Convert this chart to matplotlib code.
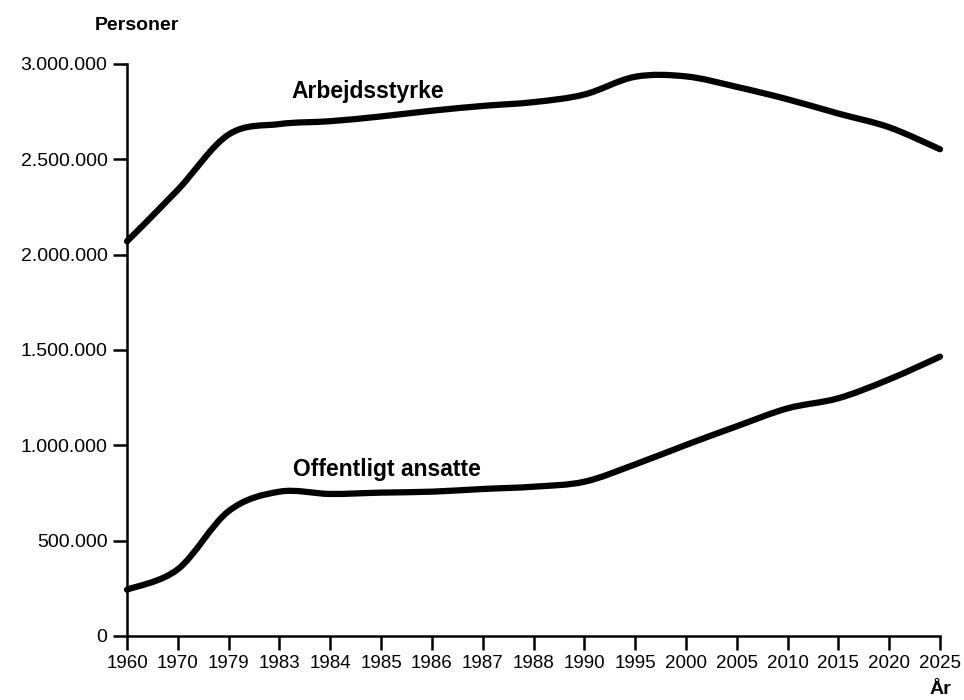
import matplotlib
matplotlib.use("Agg")
import matplotlib.pyplot as plt
from matplotlib.path import Path
from matplotlib.patches import PathPatch
import numpy as np

years = ["1960", "1970", "1979", "1983", "1984", "1985", "1986", "1987", "1988",
         "1990", "1995", "2000", "2005", "2010", "2015", "2020", "2025"]
arbejdsstyrke = [2070000, 2340000, 2630000, 2685000, 2700000, 2725000, 2755000,
                 2780000, 2800000, 2840000, 2933000, 2935000, 2880000, 2815000,
                 2740000, 2668000, 2553000]
offentligt = [243000, 350000, 655000, 757000, 745000, 752000, 757000, 771000,
              783000, 809000, 900000, 1002000, 1100000, 1194000, 1247000,
              1346000, 1465000]
y_ticks = [0, 500000, 1000000, 1500000, 2000000, 2500000, 3000000]
y_labels = ["0", "500.000", "1.000.000", "1.500.000", "2.000.000", "2.500.000", "3.000.000"]

plt.rcParams['font.family'] = ['Liberation Sans', 'DejaVu Sans']


def smooth_path(xs, ys):
    """Catmull-Rom style Bezier path through the data points."""
    pts = np.column_stack([xs, ys]).astype(float)
    n = len(pts)
    verts = [pts[0]]
    codes = [Path.MOVETO]
    for i in range(n - 1):
        p0 = pts[i - 1] if i > 0 else pts[i]
        p1 = pts[i]
        p2 = pts[i + 1]
        p3 = pts[i + 2] if i + 2 < n else pts[i + 1]
        c1 = p1 + (p2 - p0) / 6.0
        c2 = p2 - (p3 - p1) / 6.0
        verts += [c1, c2, p2]
        codes += [Path.CURVE4] * 3
    return Path(verts, codes)


fig = plt.figure(figsize=(9.64, 7.0), dpi=100)
ax = fig.add_axes([127/964, 64/700, (940-127)/964, (636-64)/700])

x = np.arange(len(years))
for series in (arbejdsstyrke, offentligt):
    patch = PathPatch(smooth_path(x, series), facecolor="none", edgecolor="black",
                      lw=4.5, capstyle="round", joinstyle="round", clip_on=False)
    ax.add_patch(patch)

ax.set_xlim(0, len(years) - 1)
ax.set_ylim(0, 3000000)
ax.set_xticks(x)
ax.set_xticklabels(years, fontsize=13.5)
ax.set_yticks(y_ticks)
ax.set_yticklabels(y_labels, fontsize=14)
for s in ("top", "right"):
    ax.spines[s].set_visible(False)
for s in ("left", "bottom"):
    ax.spines[s].set_linewidth(1.8)
ax.tick_params(axis="both", direction="out", length=10, width=1.8, pad=4)

ax.text(3.23, 2820000, "Arbejdsstyrke", fontsize=16.5, fontweight="bold")
ax.text(3.27, 840000, "Offentligt ansatte", fontsize=16.5, fontweight="bold")
fig.text(95/964, 1 - 26/700, "Personer", fontsize=14, fontweight="bold", va="center")
fig.text(940/964, 1 - 690/700, "År", fontsize=14, fontweight="bold", ha="center", va="center")

fig.savefig("out.png", dpi=100, facecolor="white")
